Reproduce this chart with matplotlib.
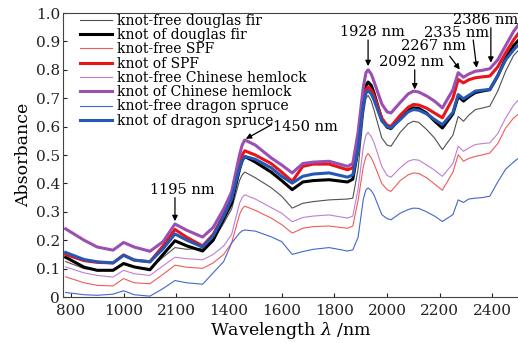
import matplotlib
matplotlib.use("Agg")
import matplotlib.pyplot as plt

plt.rcParams['font.family'] = ['DejaVu Serif']
plt.rcParams['mathtext.fontset'] = 'dejavuserif'

wavelength = [780, 850, 900, 960, 1000, 1040, 1100, 1150, 1195, 1240, 1300, 1340, 1380, 1410,
              1440, 1450, 1460, 1500, 1560, 1600, 1640, 1680, 1720, 1780, 1850, 1870, 1890,
              1910, 1920, 1928, 1940, 1950, 1980, 2000, 2015, 2050, 2080, 2100, 2120, 2150,
              2180, 2210, 2250, 2270, 2290, 2310, 2335, 2360, 2390, 2420, 2450, 2480, 2500]

knot_hemlock = [0.24, 0.20, 0.176, 0.165, 0.192, 0.176, 0.161, 0.195, 0.257, 0.235, 0.211, 0.245,
                0.31, 0.37, 0.50, 0.535, 0.553, 0.535, 0.49, 0.465, 0.437, 0.47, 0.475, 0.478,
                0.46, 0.47, 0.58, 0.74, 0.79, 0.80, 0.785, 0.76, 0.68, 0.652, 0.648, 0.685,
                0.715, 0.725, 0.722, 0.708, 0.69, 0.666, 0.73, 0.79, 0.774, 0.785, 0.795, 0.798,
                0.804, 0.835, 0.885, 0.935, 0.96]
knot_spf = [0.15, 0.128, 0.122, 0.12, 0.148, 0.13, 0.124, 0.18, 0.238, 0.21, 0.18, 0.22,
            0.29, 0.35, 0.47, 0.50, 0.515, 0.50, 0.47, 0.44, 0.407, 0.46, 0.468, 0.468,
            0.448, 0.455, 0.54, 0.69, 0.73, 0.74, 0.73, 0.71, 0.63, 0.605, 0.601, 0.64,
            0.668, 0.678, 0.676, 0.665, 0.648, 0.631, 0.70, 0.766, 0.754, 0.765, 0.772, 0.775,
            0.778, 0.81, 0.86, 0.905, 0.93]
knot_spruce = [0.157, 0.132, 0.124, 0.12, 0.147, 0.13, 0.124, 0.17, 0.222, 0.20, 0.176, 0.215,
               0.285, 0.345, 0.455, 0.48, 0.495, 0.485, 0.455, 0.425, 0.401, 0.425, 0.433, 0.437,
               0.422, 0.43, 0.52, 0.68, 0.718, 0.727, 0.715, 0.695, 0.62, 0.60, 0.595, 0.625,
               0.652, 0.66, 0.658, 0.645, 0.625, 0.607, 0.65, 0.713, 0.698, 0.71, 0.725, 0.728,
               0.731, 0.78, 0.835, 0.87, 0.89]
knot_douglas = [0.14, 0.105, 0.094, 0.094, 0.118, 0.106, 0.096, 0.15, 0.198, 0.18, 0.162, 0.20,
                0.275, 0.33, 0.45, 0.48, 0.495, 0.475, 0.44, 0.41, 0.378, 0.405, 0.41, 0.413,
                0.405, 0.415, 0.52, 0.69, 0.745, 0.757, 0.745, 0.72, 0.625, 0.598, 0.593, 0.63,
                0.657, 0.666, 0.664, 0.648, 0.62, 0.595, 0.645, 0.707, 0.69, 0.705, 0.72, 0.725,
                0.73, 0.778, 0.84, 0.885, 0.905]
free_douglas = [0.125, 0.10, 0.096, 0.094, 0.115, 0.105, 0.10, 0.14, 0.174, 0.168, 0.172, 0.20,
                0.26, 0.31, 0.41, 0.43, 0.44, 0.42, 0.385, 0.355, 0.313, 0.33, 0.336, 0.342,
                0.345, 0.348, 0.45, 0.64, 0.70, 0.71, 0.69, 0.66, 0.56, 0.535, 0.531, 0.58,
                0.61, 0.619, 0.615, 0.59, 0.56, 0.519, 0.57, 0.636, 0.619, 0.64, 0.66, 0.665,
                0.672, 0.725, 0.795, 0.85, 0.87]
free_hemlock = [0.106, 0.085, 0.076, 0.07, 0.094, 0.082, 0.076, 0.11, 0.14, 0.135, 0.131, 0.15,
                0.18, 0.22, 0.33, 0.35, 0.36, 0.345, 0.315, 0.295, 0.265, 0.28, 0.285, 0.289,
                0.278, 0.285, 0.38, 0.53, 0.57, 0.58, 0.565, 0.545, 0.46, 0.428, 0.422, 0.455,
                0.478, 0.484, 0.482, 0.465, 0.447, 0.425, 0.47, 0.531, 0.513, 0.525, 0.537, 0.54,
                0.543, 0.575, 0.63, 0.675, 0.695]
free_spf = [0.071, 0.05, 0.041, 0.039, 0.065, 0.05, 0.047, 0.08, 0.112, 0.105, 0.101, 0.12,
            0.15, 0.19, 0.29, 0.31, 0.32, 0.305, 0.278, 0.255, 0.225, 0.242, 0.248, 0.25,
            0.242, 0.25, 0.34, 0.46, 0.495, 0.505, 0.49, 0.47, 0.40, 0.378, 0.372, 0.41,
            0.43, 0.437, 0.435, 0.42, 0.398, 0.376, 0.44, 0.501, 0.478, 0.488, 0.495, 0.50,
            0.507, 0.54, 0.595, 0.63, 0.645]
free_spruce = [0.016, 0.008, 0.006, 0.01, 0.022, 0.008, 0.003, 0.03, 0.058, 0.05, 0.045, 0.085,
               0.125, 0.19, 0.225, 0.233, 0.236, 0.232, 0.212, 0.195, 0.15, 0.16, 0.168, 0.174,
               0.162, 0.166, 0.21, 0.345, 0.378, 0.384, 0.375, 0.36, 0.29, 0.276, 0.272, 0.295,
               0.308, 0.313, 0.312, 0.30, 0.285, 0.266, 0.29, 0.342, 0.333, 0.345, 0.348, 0.35,
               0.355, 0.405, 0.45, 0.475, 0.49]

series = [
    ("knot-free douglas fir", free_douglas, "#505050", 0.8),
    ("knot of douglas fir", knot_douglas, "#000000", 2.2),
    ("knot-free SPF", free_spf, "#f25a5a", 0.8),
    ("knot of SPF", knot_spf, "#e8141c", 2.2),
    ("knot-free Chinese hemlock", free_hemlock, "#c07ed2", 0.8),
    ("knot of Chinese hemlock", knot_hemlock, "#9a4fb2", 2.2),
    ("knot-free dragon spruce", free_spruce, "#4466cc", 0.8),
    ("knot of dragon spruce", knot_spruce, "#2458b4", 2.2),
]

xticks = [800, 1000, 1200, 1400, 1600, 1800, 2000, 2200, 2400]
xticklabels = ["800", "1000", "2100", "1400", "1600", "1800", "2000", "2200", "2400"]
yticks = [0, 0.1, 0.2, 0.3, 0.4, 0.5, 0.6, 0.7, 0.8, 0.9, 1.0]
yticklabels = ["0", "0.1", "0.2", "0.3", "0.4", "0.5", "0.6", "0.7", "0.8", "0.9", "1.0"]

annotations = [
    ("1195 nm", 1195, 0.267, 1195, 0.35, 1222, 0.376, "center"),
    ("1450 nm", 1464, 0.557, 1562, 0.607, 1567, 0.60, "left"),
    ("1928 nm", 1928, 0.813, 1928, 0.905, 1944, 0.934, "center"),
    ("2092 nm", 2105, 0.731, 2105, 0.80, 2092, 0.828, "center"),
    ("2267 nm", 2276, 0.801, 2238, 0.848, 2178, 0.884, "center"),
    ("2335 nm", 2340, 0.807, 2327, 0.905, 2264, 0.928, "center"),
    ("2386 nm", 2394, 0.825, 2394, 0.948, 2376, 0.975, "center"),
]

fig = plt.figure(figsize=(5.18, 3.43), dpi=100)
ax = fig.add_axes([0.1216, 0.1341, 0.8784, 0.8279])

for label, vals, color, lw in series:
    ax.plot(wavelength, vals, color=color, lw=lw, label=label,
            solid_joinstyle='round')

ax.set_xlim(770, 2497)
ax.set_ylim(0, 1.0)
ax.set_xticks(xticks)
ax.set_xticklabels(xticklabels)
ax.set_yticks(yticks)
ax.set_yticklabels(yticklabels)
ax.tick_params(direction='in', length=3, width=0.8, labelsize=11, colors='#222222')
ax.tick_params(axis='x', pad=5)
ax.tick_params(axis='y', pad=2)
for s in ax.spines.values():
    s.set_color('#444444')
    s.set_linewidth(0.8)
ax.spines['right'].set_visible(False)

ax.set_xlabel(r"Wavelength $\lambda$ /nm", fontsize=12.5, labelpad=1.5)
ax.set_ylabel("Absorbance", fontsize=12.5, labelpad=3)

for text, xt, yt, xa, ya, xtx, ytx, ha in annotations:
    ax.annotate("", xy=(xt, yt), xytext=(xa, ya),
                arrowprops=dict(arrowstyle="-|>", color="black", lw=0.9,
                                mutation_scale=8, shrinkA=0, shrinkB=0))
    ax.text(xtx, ytx, text, ha=ha, va="center", fontsize=10.5)

leg = ax.legend(loc="upper left", bbox_to_anchor=(0.035, 1.0), frameon=False,
                fontsize=10, borderpad=0.05, borderaxespad=0, labelspacing=0.02,
                handlelength=2.3, handletextpad=0.4)

fig.savefig("out.png", dpi=100)
